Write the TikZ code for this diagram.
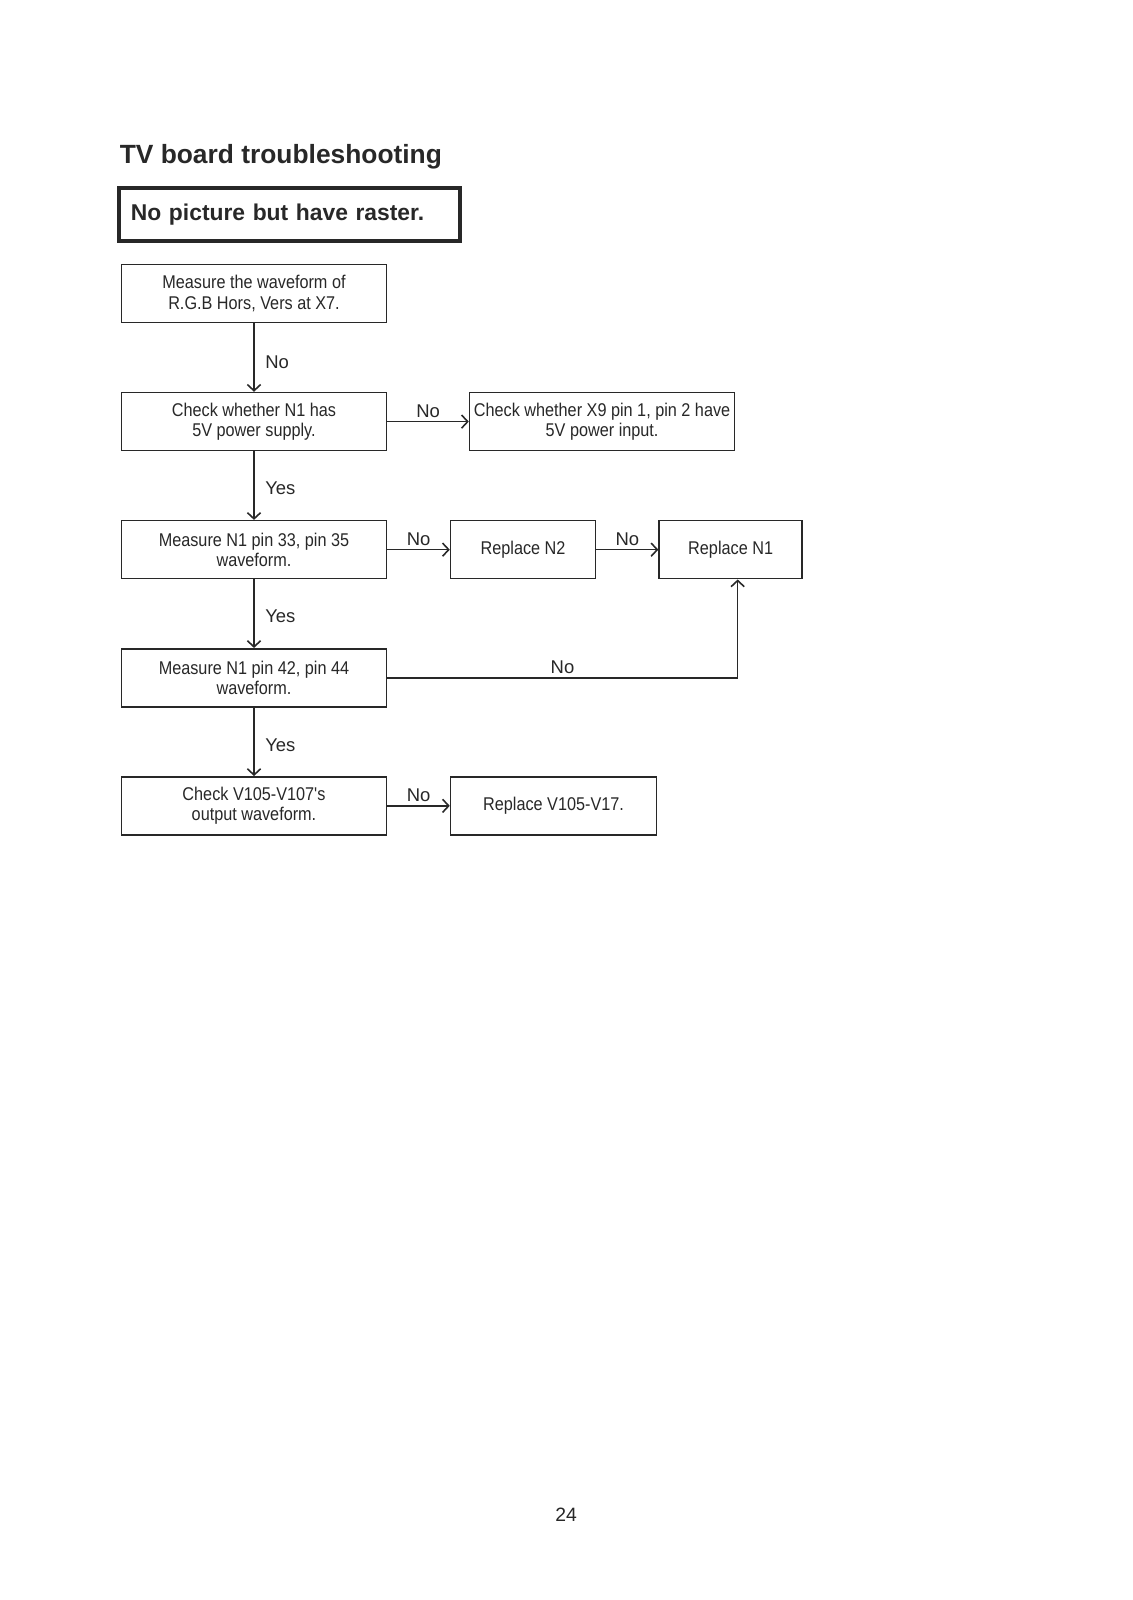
\documentclass[tikz,border=0pt]{standalone}
\usepackage{fontspec}
\setmainfont{Liberation Sans}
\newfontfamily\narrowfont[FakeStretch=0.88]{Liberation Sans}
\usepackage{xcolor}
\definecolor{ink}{RGB}{40,40,40}
\usetikzlibrary{positioning}
\usetikzlibrary{arrows.meta}

\begin{document}
\begin{tikzpicture}[ink, line width=0.9pt,
  >={Straight Barb[length=3.5pt,width=7.5pt]},
  testbox/.style={draw, rectangle, minimum height=1.16cm, inner xsep=1pt, align=center,
    font=\narrowfont\fontsize{10.5}{11.4}\selectfont},
  lbl/.style={font=\fontsize{10.5}{12}\selectfont, inner sep=1pt}]
\useasboundingbox[fill=white] (0,0) rectangle (22.66,-32);

\node (title) at (2.38,-3.26) [anchor=base west, inner sep=0, font=\bfseries\fontsize{15}{18}\selectfont] {TV board troubleshooting};
\node (fault) at (2.34,-3.72) [anchor=north west, draw, line width=2.2pt, minimum height=1.06cm, text width=6.34cm, inner xsep=0.24cm, align=left, font=\bfseries\fontsize{13}{15}\selectfont] {No picture but have raster.};

\node (test1) at (5.08,-5.87) [testbox, minimum width=5.3cm] {Measure the waveform of\\R.G.B Hors, Vers at X7.};
\node (test2) [below=1.37cm of test1] [testbox, minimum width=5.3cm] {Check whether N1 has\\5V power supply.};
\node (test3) [below=1.37cm of test2] [testbox, minimum width=5.3cm] {Measure N1 pin 33, pin 35\\waveform.};
\node (test4) [below=1.37cm of test3] [testbox, minimum width=5.3cm] {Measure N1 pin 42, pin 44\\waveform.};
\node (test5) [below=1.37cm of test4] [testbox, minimum width=5.3cm] {Check V105-V107's\\output waveform.};

\node (power) [right=1.63cm of test2] [testbox, minimum width=5.3cm] {Check whether X9 pin 1, pin 2 have\\5V power input.};
\node (replN2) [right=1.25cm of test3] [testbox, minimum width=2.9cm] {Replace N2};
\node (replN1) [right=1.24cm of replN2] [testbox, minimum width=2.86cm] {Replace N1};
\node (replV) [right=1.25cm of test5] [testbox, minimum width=4.12cm] {Replace V105-V17.};

\draw[->] (test1) -- (test2) node[lbl, midway, right=5pt, yshift=-0.09cm] {No};
\draw[->] (test2) -- (test3) node[lbl, midway, right=5pt, yshift=-0.06cm] {Yes};
\draw[->] (test3) -- (test4) node[lbl, midway, right=5pt, yshift=-0.06cm] {Yes};
\draw[->] (test4) -- (test5) node[lbl, midway, right=5pt, yshift=-0.06cm] {Yes};

\draw[->] (test2) -- (power) node[lbl, midway, above=1pt] {No};
\draw[->] (test3) -- (replN2) node[lbl, midway, above=1pt] {No};
\draw[->] (replN2) -- (replN1) node[lbl, midway, above=1pt] {No};
\draw[->] (test5) -- (replV) node[lbl, midway, above=1pt] {No};
\draw[->] (test4.east) -| ([xshift=0.14cm]replN1.south) node[lbl, pos=0.25, above=1pt] {No};

\node (page) at (11.32,-30.3) [font=\fontsize{11}{13}\selectfont] {24};
\end{tikzpicture}
\end{document}
